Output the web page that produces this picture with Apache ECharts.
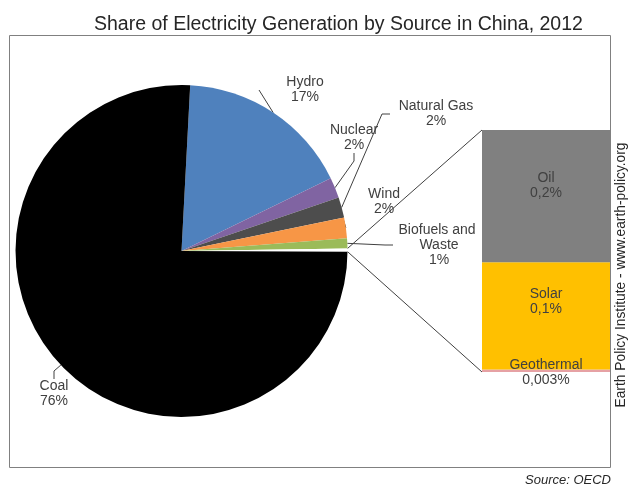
<!DOCTYPE html>
<html>
<head>
<meta charset="utf-8">
<script src="https://cdn.jsdelivr.net/npm/echarts@6/dist/echarts.min.js"></script>
<style>html,body{margin:0;padding:0;background:#fff}#c{width:630px;height:488px}</style>
</head>
<body>
<div id="c"></div>
<script>
// ---- data ----
const pieNames = ['Hydro', 'Nuclear', 'Natural Gas', 'Wind', 'Biofuels and Waste', 'Other', 'Coal'];
const pieValues = [17, 2, 2, 2, 1, 0.3, 76];
const pieLabels = ['17%', '2%', '2%', '2%', '1%', '', '76%'];
const barNames = ['Geothermal', 'Solar', 'Oil'];
const barValues = [0.003, 0.134, 0.165];
const barLabels = ['0,003%', '0,1%', '0,2%'];

// ---- styles / layout ----
const pieColors = ['#4f81bd', '#8064a2', '#4d4d4d', '#f79646', '#9bbb59', '#ffffff', '#000000'];
const barColors = ['#e6a1a4', '#ffc000', '#808080'];
const pieLabelPos = [[305, 90], [354, 138], [436, 114], [384, 202], [439, 245], null, [54, 394]];
const barLabelOffset = [[0, 2], [0, -14], [0, -10]];
const FONT = 'Liberation Sans, Arial, sans-serif';
const TXT = '#404040';

const chart = echarts.init(document.getElementById('c'), null, {renderer: 'canvas'});

const pieData = pieNames.map((n, i) => ({
  name: n, value: pieValues[i],
  itemStyle: {color: pieColors[i]},
  label: {show: i !== 5},
  labelLine: {show: i !== 5}
}));

const barSeries = barNames.map((n, i) => ({
  type: 'bar', name: n, stack: 'other', xAxisIndex: 0, yAxisIndex: 0,
  data: [barValues[i]], barWidth: '100%',
  itemStyle: {color: barColors[i]},
  label: {
    show: true, position: 'inside', offset: barLabelOffset[i],
    formatter: n + '\n' + barLabels[i],
    color: TXT, fontFamily: FONT, fontSize: 14, lineHeight: 15
  },
  silent: true
}));

chart.setOption({
  animation: false,
  title: {
    text: 'Share of Electricity Generation by Source in China, 2012',
    left: 89, top: 10,
    textStyle: {fontFamily: FONT, fontSize: 19.5, fontWeight: 'normal', color: '#262626'}
  },
  grid: {left: 482, top: 130, width: 128, height: 242},
  xAxis: {type: 'category', data: ['Other'], show: false},
  yAxis: {type: 'value', min: 0, max: barValues.reduce((a, b) => a + b, 0), show: false},
  graphic: [
    {id: 'frame', type: 'rect', shape: {x: 9.5, y: 35.5, width: 601, height: 432},
     style: {fill: null, stroke: '#808080', lineWidth: 1}, z: 100},
    {id: 'credit', type: 'text', x: 621, y: 275, rotation: Math.PI / 2,
     style: {text: 'Earth Policy Institute - www.earth-policy.org', fill: '#262626',
             font: '13.8px ' + FONT, align: 'center', verticalAlign: 'middle'}},
    {id: 'source', type: 'text', x: 611, y: 480,
     style: {text: 'Source: OECD', fill: '#262626', font: 'italic 13px ' + FONT,
             align: 'right', verticalAlign: 'middle'}}
  ],
  series: [{
    type: 'pie', center: [181.5, 251], radius: 166, startAngle: 87, clockwise: true,
    data: pieData, silent: true,
    label: {
      position: 'outside', formatter: (p) => p.name + '\n' + pieLabels[p.dataIndex],
      color: TXT, fontFamily: FONT, fontSize: 14, lineHeight: 15,
      width: 92, overflow: 'break', align: 'center'
    },
    labelLine: {show: true, length: 8, length2: 8, lineStyle: {color: '#404040', width: 1}},
    labelLayout: (params) => {
      const p = pieLabelPos[params.dataIndex];
      if (!p) return {};
      return {x: p[0], y: p[1], align: 'center', verticalAlign: 'middle', hideOverlap: false};
    },
    emphasis: {disabled: true}
  }].concat(barSeries)
});

// connector lines from the "Other" slice to the bar corners
const pieSeries = chart.getModel().getSeriesByIndex(0);
const lay = pieSeries.getData().getItemLayout(5);
const rect = chart.getModel().getComponent('grid', 0).coordinateSystem.getRect();
const pA = [lay.cx + lay.r * Math.cos(lay.startAngle), lay.cy + lay.r * Math.sin(lay.startAngle)];
const pB = [lay.cx + lay.r * Math.cos(lay.endAngle), lay.cy + lay.r * Math.sin(lay.endAngle)];
chart.setOption({
  graphic: [
    {id: 'conTop', type: 'line', shape: {x1: pA[0], y1: pA[1], x2: rect.x, y2: rect.y},
     style: {stroke: '#404040', lineWidth: 1}},
    {id: 'conBot', type: 'line', shape: {x1: pB[0], y1: pB[1], x2: rect.x, y2: rect.y + rect.height},
     style: {stroke: '#404040', lineWidth: 1}}
  ]
});
</script>
</body>
</html>
